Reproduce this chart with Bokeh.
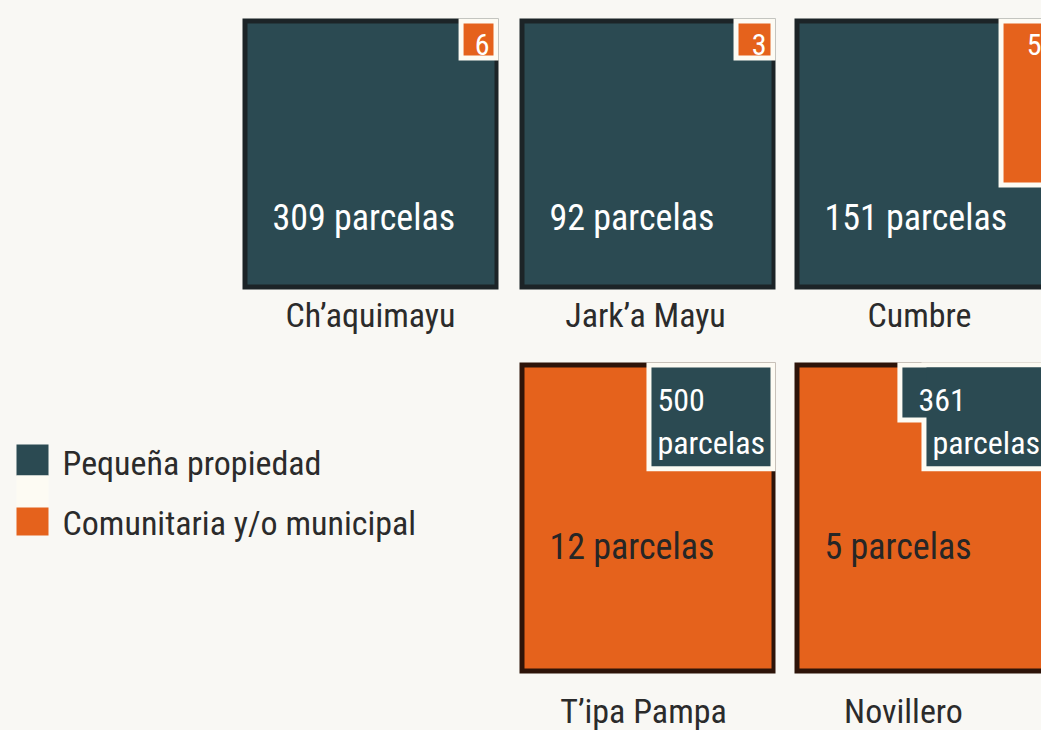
import subprocess
from bokeh.plotting import figure
from bokeh.models import Range1d
from bokeh.core.properties import value
from bokeh.embed import file_html
from bokeh.resources import INLINE

# ---------------- data ----------------
communities = ["Ch\u2019aquimayu", "Jark\u2019a Mayu", "Cumbre", "T\u2019ipa Pampa", "Novillero"]
pequena_parcelas = [309, 92, 151, 500, 361]          # Pequeña propiedad
comunitaria_parcelas = [6, 3, 5, 12, 5]             # Comunitaria y/o municipal
mayoria = ["peq", "peq", "peq", "com", "com"]       # which tenure dominates the area
# share of the square taken by the minority tenure, as (width share, height share) steps
minoria_w = [[0.156], [0.164], [0.203], [0.504], [0.598, 0.504]]
minoria_h = [[0.155], [0.155], [0.624], [0.350], [0.193, 0.350]]
legend_labels = ["Peque\u00f1a propiedad", "Comunitaria y/o municipal"]

# ---------------- style / layout ----------------
BG = "#f9f8f4"
TEAL = "#2b4a52"
ORANGE = "#e5621c"
CREAM = "#fdfbf3"
DARK_T = "#1c2427"
DARK_O = "#2e1409"
TXT = "#2b2b2b"

try:
    fams = subprocess.run(["fc-list", ":", "family"], capture_output=True, text=True).stdout
except Exception:
    fams = ""
if "Roboto Condensed" in fams:
    FONT, K = "Roboto Condensed", 1.0
elif "Liberation Sans Narrow" in fams:
    FONT, K = "Liberation Sans Narrow", 1.04
elif "DejaVu Sans Condensed" in fams:
    FONT, K = "DejaVu Sans Condensed", 0.88
else:
    FONT, K = "Roboto", 0.895

def fs(px):
    return f"{px * K:.1f}px"

def by(y, px):
    # target visual baseline -> anchor used by the renderer
    return y - 0.36 * px * K

W, Hp = 1041, 730
COL_X = [242, 519, 794]
ROWS = [(18, 289), (362, 673)]
PANEL_W = 256
panel_col = [0, 1, 2, 1, 2]
panel_row = [0, 0, 0, 1, 1]
big_baseline = [230, 559]
label_baseline = [327, 723]
label_dx = [0, -2, -3, -4, -19]

p = figure(width=W, height=Hp, x_range=Range1d(0, W), y_range=Range1d(Hp, 0),
           output_backend="svg", toolbar_location=None, x_axis_type=None, y_axis_type=None,
           min_border=0, background_fill_color=BG, border_fill_color=BG,
           outline_line_color=None)
p.grid.visible = False

colors = {"peq": TEAL, "com": ORANGE}
other = {"peq": "com", "com": "peq"}

outer = dict(left=[], right=[], top=[], bottom=[], color=[])
inner = dict(left=[], right=[], top=[], bottom=[], color=[])
cream = dict(left=[], right=[], top=[], bottom=[])
minor = dict(left=[], right=[], top=[], bottom=[], color=[])

for i, name in enumerate(communities):
    x0 = COL_X[panel_col[i]]
    x1 = x0 + PANEL_W
    y0, y1 = ROWS[panel_row[i]]
    H = y1 - y0
    maj = mayoria[i]
    outer["left"].append(x0); outer["right"].append(x1)
    outer["top"].append(y0); outer["bottom"].append(y1)
    outer["color"].append(DARK_T if maj == "peq" else DARK_O)
    inner["left"].append(x0 + 5); inner["right"].append(x1 - 4)
    inner["top"].append(y0 + 5); inner["bottom"].append(y1 - 5)
    inner["color"].append(colors[maj])
    for wf, hf in zip(minoria_w[i], minoria_h[i]):
        l = x1 - wf * PANEL_W
        b = y0 + hf * H
        cream["left"].append(l); cream["right"].append(x1)
        cream["top"].append(y0); cream["bottom"].append(b)
        minor["left"].append(l + 5); minor["right"].append(x1 - 5)
        minor["top"].append(y0 + 5); minor["bottom"].append(b - 5)
        minor["color"].append(colors[other[maj]])

p.quad(left="left", right="right", top="top", bottom="bottom", fill_color="color",
       line_color=None, source=outer)
p.quad(left="left", right="right", top="top", bottom="bottom", fill_color="color",
       line_color=None, source=inner)
p.quad(left="left", right="right", top="top", bottom="bottom", fill_color=CREAM,
       line_color=None, source=cream)
p.quad(left="left", right="right", top="top", bottom="bottom", fill_color="color",
       line_color=None, source=minor)

def txt(x, y, s, px, color, align="left"):
    p.text(x=[x], y=[by(y, px)], text=[s], text_font=value(FONT), text_font_size=fs(px),
           text_color=color, text_baseline="alphabetic", text_align=align)

# texts
for i, name in enumerate(communities):
    x0 = COL_X[panel_col[i]]
    x1 = x0 + PANEL_W
    y0, y1 = ROWS[panel_row[i]]
    row = panel_row[i]
    maj = mayoria[i]
    big_n = pequena_parcelas[i] if maj == "peq" else comunitaria_parcelas[i]
    small_n = comunitaria_parcelas[i] if maj == "peq" else pequena_parcelas[i]
    txt(x0 + 30, big_baseline[row], f"{big_n} parcelas", 36,
        "white" if maj == "peq" else "#262626")
    if maj == "peq":
        txt(x1 - 9, y0 + 37, str(small_n), 30, "white", "right")
    else:
        l_top = x1 - minoria_w[i][0] * PANEL_W
        l_low = x1 - minoria_w[i][-1] * PANEL_W
        txt(l_top + 11 + (10 if len(minoria_w[i]) > 1 else 0), y0 + 49, str(small_n), 32, "white")
        txt(l_low + 11, y0 + 92, "parcelas", 32, "white")
    txt((x0 + x1) / 2 + label_dx[i], label_baseline[row], name, 34, TXT, "center")

# legend
p.quad(left=[16, 16, 16], right=[48, 48, 48], top=[444, 475, 507], bottom=[475, 507, 535],
       fill_color=[TEAL, CREAM, ORANGE], line_color=None)
txt(62, 475, legend_labels[0], 34, TXT)
txt(62, 535, legend_labels[1], 34, TXT)

html = file_html(p, INLINE)
html = html.replace("<head>",
                    "<head><style>html,body{background:%s;margin:0;padding:0;overflow:hidden;}</style>" % BG, 1)
open("out.html", "w").write(html)
